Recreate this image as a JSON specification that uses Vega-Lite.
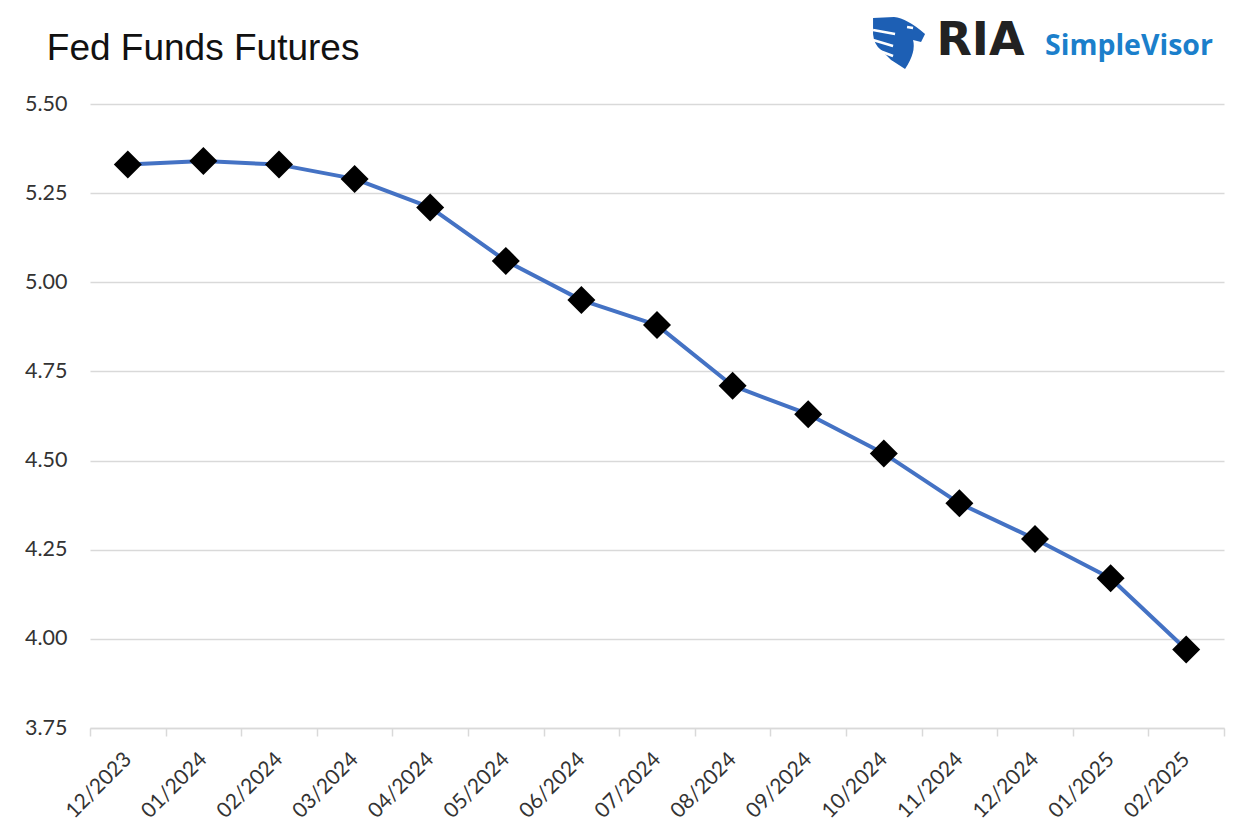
{
  "$schema": "https://vega.github.io/schema/vega-lite/v6.json",
  "width": 1134,
  "height": 624,
  "autosize": "none",
  "padding": {"left": 90, "top": 104, "right": 28, "bottom": 106},
  "background": "white",
  "config": {"view": {"stroke": null}, "font": "Lato"},
  "data": {
    "values": [
      {"month": "12/2023", "rate": 5.33},
      {"month": "01/2024", "rate": 5.34},
      {"month": "02/2024", "rate": 5.33},
      {"month": "03/2024", "rate": 5.29},
      {"month": "04/2024", "rate": 5.21},
      {"month": "05/2024", "rate": 5.06},
      {"month": "06/2024", "rate": 4.95},
      {"month": "07/2024", "rate": 4.88},
      {"month": "08/2024", "rate": 4.71},
      {"month": "09/2024", "rate": 4.63},
      {"month": "10/2024", "rate": 4.52},
      {"month": "11/2024", "rate": 4.38},
      {"month": "12/2024", "rate": 4.28},
      {"month": "01/2025", "rate": 4.17},
      {"month": "02/2025", "rate": 3.97}
    ]
  },
  "layer": [
    {
      "mark": {"type": "line", "color": "#4472C4", "strokeWidth": 4, "interpolate": "linear", "strokeJoin": "round"},
      "encoding": {
        "x": {
          "field": "month",
          "type": "ordinal",
          "scale": {
            "type": "band",
            "paddingInner": 0,
            "paddingOuter": 0,
            "domain": ["12/2023", "01/2024", "02/2024", "03/2024", "04/2024", "05/2024", "06/2024", "07/2024", "08/2024", "09/2024", "10/2024", "11/2024", "12/2024", "01/2025", "02/2025"]
          },
          "axis": {
            "title": null,
            "labelAngle": -45,
            "labelAlign": "right",
            "labelBaseline": "middle",
            "labelFont": "Lato",
            "labelFontSize": 21,
            "labelColor": "#333333",
            "labelPadding": 20,
            "tickBand": "extent",
            "tickColor": "#d9d9d9",
            "tickSize": 8,
            "tickWidth": 1.5,
            "domainColor": "#d9d9d9",
            "domainWidth": 1.5,
            "grid": false
          }
        },
        "y": {
          "field": "rate",
          "type": "quantitative",
          "scale": {"domain": [3.75, 5.5], "nice": false, "zero": false},
          "axis": {
            "title": null,
            "values": [3.75, 4, 4.25, 4.5, 4.75, 5, 5.25, 5.5],
            "format": ".2f",
            "labelFont": "Lato",
            "labelFontSize": 21.5,
            "labelColor": "#333333",
            "labelPadding": 23,
            "ticks": false,
            "domain": false,
            "gridColor": "#d9d9d9",
            "gridWidth": 1.5
          }
        }
      }
    },
    {
      "mark": {"type": "point", "shape": "diamond", "filled": true, "color": "#000000", "opacity": 1, "size": 784},
      "encoding": {
        "x": {"field": "month", "type": "ordinal"},
        "y": {"field": "rate", "type": "quantitative"}
      }
    },
    {
      "transform": [{"filter": "datum.month == '12/2023'"}],
      "mark": {"type": "text", "text": "Fed Funds Futures", "font": "Liberation Sans", "fontSize": 37, "align": "left", "baseline": "alphabetic", "dx": -81, "color": "#111111"},
      "encoding": {"x": {"datum": "12/2023", "type": "ordinal"}, "y": {"datum": 5.623, "type": "quantitative"}}
    },
    {
      "transform": [{"filter": "datum.month == '12/2023'"}],
      "mark": {"type": "point", "shape": "M-0.43,-0.96 L0.41,-1 Q0.93,-0.95 1.65,-0.32 L1.49,0 L1.17,-0.08 Q1.3,0.4 0.85,1.08 Q0.5,0.85 0.29,0.72 L-0.11,0.32 Q-0.4,0.1 -0.43,-0.32 Z", "filled": true, "color": "#1d5fb4", "opacity": 1, "size": 2500},
      "encoding": {"x": {"datum": "10/2024", "type": "ordinal"}, "y": {"datum": 5.674, "type": "quantitative"}}
    },
    {
      "transform": [{"filter": "datum.month == '12/2023'"}],
      "mark": {"type": "point", "shape": "M-0.43,-0.48 L0.45,-0.32 M-0.43,-0.08 L0.37,0.16 M-0.27,0.32 L0.37,0.56 M0.93,-0.6 L1.17,-0.56", "filled": false, "stroke": "#ffffff", "strokeWidth": 2.5, "opacity": 1, "size": 2500},
      "encoding": {"x": {"datum": "10/2024", "type": "ordinal"}, "y": {"datum": 5.674, "type": "quantitative"}}
    },
    {
      "transform": [{"filter": "datum.month == '12/2023'"}],
      "mark": {"type": "text", "text": "RIA", "font": "DejaVu Sans", "fontWeight": "bold", "fontSize": 46, "align": "left", "baseline": "alphabetic", "dx": -23, "color": "#222222"},
      "encoding": {"x": {"datum": "11/2024", "type": "ordinal"}, "y": {"datum": 5.637, "type": "quantitative"}}
    },
    {
      "transform": [{"filter": "datum.month == '12/2023'"}],
      "mark": {"type": "text", "text": "SimpleVisor", "font": "Open Sans", "fontWeight": "bold", "fontSize": 28.5, "align": "left", "baseline": "alphabetic", "dx": 10, "color": "#1b7fcb"},
      "encoding": {"x": {"datum": "12/2024", "type": "ordinal"}, "y": {"datum": 5.637, "type": "quantitative"}}
    }
  ]
}
